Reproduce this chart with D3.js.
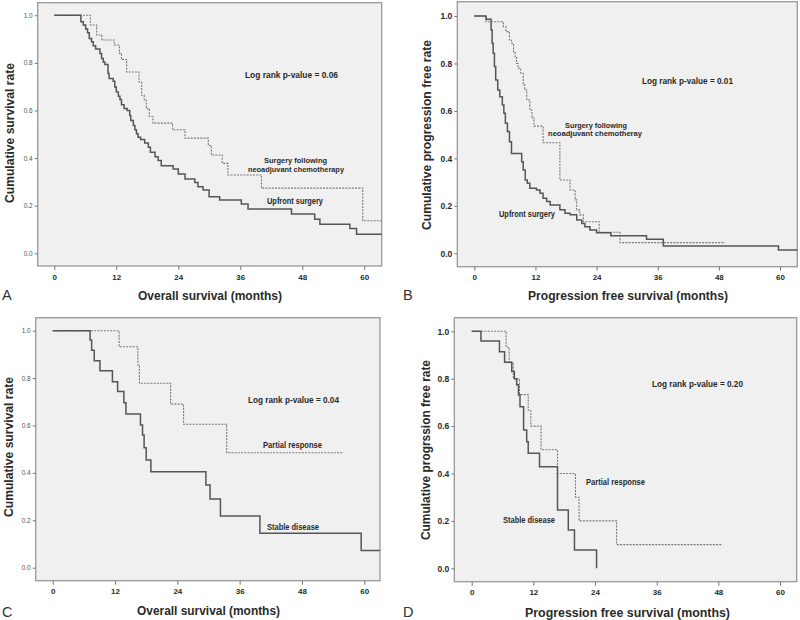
<!DOCTYPE html>
<html>
<head>
<meta charset="utf-8">
<script src="https://cdn.jsdelivr.net/npm/d3@7"></script>
<style>
  html, body { margin: 0; padding: 0; background: #ffffff; }
  svg { display: block; font-family: "Liberation Sans", Arial, sans-serif; }
</style>
</head>
<body>
<svg id="chart" width="800" height="620"></svg>
<script>
// ---- data ----
const xTickValues = [0, 12, 24, 36, 48, 60];
const yTickValues = [0, 0.2, 0.4, 0.6, 0.8, 1.0];

// Panel A: overall survival
const osUpfront = [[0,1],[5.15,0.973],[5.6,0.959],[6.06,0.942],[6.44,0.927],[6.77,0.903],[7.2,0.889],[7.54,0.872],[8.0,0.858],[8.83,0.84],[9.15,0.819],[9.47,0.804],[9.8,0.793],[10.4,0.755],[10.6,0.734],[11.4,0.723],[11.7,0.699],[12.0,0.678],[12.4,0.66],[12.7,0.646],[13.0,0.624],[13.5,0.608],[14.1,0.6],[14.6,0.579],[14.8,0.558],[15.3,0.537],[15.6,0.519],[15.9,0.502],[16.2,0.488],[16.7,0.478],[17.5,0.463],[18.2,0.446],[18.6,0.425],[19.5,0.406],[20.1,0.39],[20.7,0.368],[23.0,0.354],[24.0,0.333],[25.3,0.312],[27.2,0.298],[27.8,0.28],[28.8,0.266],[29.96,0.238],[32.0,0.224],[36.2,0.207],[37.5,0.186],[45.9,0.165],[50.4,0.143],[51.4,0.122],[57.2,0.104],[58.5,0.08],[63.4,0.08]];
const osNeoadj = [[0,1],[7.0,0.959],[8.2,0.917],[9.2,0.896],[11.6,0.875],[12.6,0.84],[13.0,0.814],[14.0,0.762],[16.4,0.72],[16.9,0.664],[17.4,0.643],[17.8,0.608],[18.4,0.575],[19.1,0.547],[22.9,0.519],[25.3,0.484],[29.8,0.453],[30.4,0.413],[32.5,0.378],[33.6,0.329],[40.1,0.274],[59.7,0.137],[63.4,0.137]];

// Panel B: progression free survival
const pfsUpfront = [[0,1],[2.3,0.986],[3.3,0.941],[3.5,0.885],[3.7,0.843],[3.95,0.787],[4.2,0.73],[4.6,0.688],[5.0,0.66],[5.5,0.625],[5.8,0.59],[6.1,0.548],[6.5,0.513],[6.9,0.47],[7.3,0.421],[9.3,0.386],[9.6,0.351],[10.0,0.309],[10.4,0.295],[10.9,0.274],[12.2,0.267],[12.9,0.253],[13.5,0.232],[14.2,0.218],[14.9,0.204],[16.8,0.183],[17.8,0.169],[18.8,0.162],[20.1,0.14],[21.1,0.126],[21.7,0.112],[22.7,0.098],[24.0,0.087],[26.8,0.074],[33.8,0.059],[37.1,0.031],[59.7,0.014],[63.4,0.014]];
const pfsNeoadj = [[0,1],[2.3,0.976],[5.7,0.955],[6.2,0.934],[6.9,0.899],[7.3,0.885],[7.7,0.85],[8.0,0.829],[8.3,0.8],[8.6,0.78],[9.1,0.76],[9.6,0.709],[9.9,0.688],[10.3,0.646],[10.9,0.604],[11.3,0.57],[11.7,0.536],[13.5,0.466],[16.8,0.309],[18.8,0.267],[19.8,0.225],[20.1,0.183],[20.7,0.162],[21.4,0.133],[24.5,0.089],[28.6,0.045],[49.2,0.045]];

// Panel C: overall survival by response
const osStable = [[0,1],[7.2,0.961],[7.5,0.918],[8.0,0.873],[9.1,0.831],[11.5,0.785],[12.5,0.743],[13.7,0.696],[14.1,0.648],[16.9,0.602],[17.3,0.56],[17.6,0.506],[18.0,0.454],[18.9,0.405],[29.5,0.349],[30.3,0.29],[32.3,0.218],[39.9,0.145],[59.4,0.073],[63.0,0.073]];
const osPartial = [[0,1],[12.8,0.932],[16.4,0.855],[16.7,0.778],[22.7,0.69],[25.2,0.605],[33.5,0.485],[56,0.485]];

// Panel D: progression free survival by response
const pfsStable = [[0,1],[1.8,0.959],[5.4,0.914],[6.4,0.869],[7.8,0.83],[8.3,0.8],[8.75,0.774],[9.1,0.731],[9.4,0.682],[10.1,0.584],[10.7,0.534],[11.0,0.485],[13.2,0.429],[16.7,0.246],[18.8,0.162],[20.0,0.077],[24.3,0.0]];
const pfsPartial = [[0,1],[6.7,0.933],[7.3,0.867],[8.1,0.8],[9.3,0.733],[11.0,0.667],[11.5,0.6],[13.5,0.5],[16.7,0.4],[20.2,0.3],[20.9,0.2],[28.2,0.1],[48.8,0.1]];

const panelLetters = ["A", "B", "C", "D"];
const xTitles = ["Overall survival (months)", "Progression free survival (months)", "Overall survival (months)", "Progression free survival (months)"];
const yTitles = ["Cumulative survival rate", "Cumulative progression free rate", "Cumulative survival rate", "Cumulative progrssion free rate"];
const pValueLabels = ["Log rank p-value = 0.06", "Log rank p-value = 0.01", "Log rank p-value = 0.04", "Log rank p-value = 0.20"];

// ---- layout ----
const layouts = [
  { box:[37.7,2.7,381.7,266], xr:[54.3,364.3], yr:[253.3,15.3], smallY:true,
    yTitle:{x:13.5, cy:133, len:140}, xTitle:{cx:210, y:300, len:144}, letter:{x:2, y:300},
    solid:osUpfront, dashed:osNeoadj,
    notes:[{t:pValueLabels[0], x:245, y:78, w:93, fs:8.5},
           {t:"Surgery following", x:264, y:163, w:63, fs:7.2},
           {t:"neoadjuvant chemotherapy", x:248, y:171.8, w:96, fs:7.2},
           {t:"Upfront surgery", x:267, y:204, w:56, fs:8.5}] },
  { box:[457.3,1.7,797.3,266.7], xr:[474.3,780], yr:[253.3,16], smallY:false,
    yTitle:{x:431, cy:135, len:190}, xTitle:{cx:628, y:300, len:200}, letter:{x:403, y:300},
    solid:pfsUpfront, dashed:pfsNeoadj,
    notes:[{t:pValueLabels[1], x:642, y:84, w:91, fs:8.5},
           {t:"Surgery following", x:565, y:127.6, w:62, fs:7.2},
           {t:"neoadjuvant chemotheray", x:548, y:136.4, w:94, fs:7.2},
           {t:"Upfront surgery", x:499, y:217, w:56, fs:8.5}] },
  { box:[35.7,317.7,380,580.7], xr:[52.7,364.3], yr:[567.7,330.7], smallY:true,
    yTitle:{x:12.5, cy:447, len:140}, xTitle:{cx:208.5, y:615, len:143}, letter:{x:2, y:616.5},
    solid:osStable, dashed:osPartial,
    notes:[{t:pValueLabels[2], x:248, y:402.5, w:91, fs:8.5},
           {t:"Partial response", x:263, y:447.5, w:59, fs:8.5},
           {t:"Stable disease", x:267, y:529.5, w:52, fs:8.5}] },
  { box:[454.3,317.7,796.7,581.7], xr:[471.7,780], yr:[568.3,331.3], smallY:false,
    yTitle:{x:430, cy:450, len:180}, xTitle:{cx:627.5, y:616.5, len:205}, letter:{x:403, y:616.5},
    solid:pfsStable, dashed:pfsPartial,
    notes:[{t:pValueLabels[3], x:652, y:387, w:91, fs:8.5},
           {t:"Partial response", x:586, y:484.5, w:59, fs:8.5},
           {t:"Stable disease", x:503, y:523, w:52, fs:8.5}] }
];

const svg = d3.select("#chart");

layouts.forEach((L, i) => {
  const g = svg.append("g");
  const x = d3.scaleLinear().domain([0, 60]).range(L.xr);
  const y = d3.scaleLinear().domain([0, 1]).range(L.yr);
  const [bx0, by0, bx1, by1] = L.box;

  g.append("rect").attr("x", bx0).attr("y", by0).attr("width", bx1 - bx0).attr("height", by1 - by0)
    .attr("fill", "#f0f0f0").attr("stroke", "#999").attr("stroke-width", 1.3);

  // x axis
  const xa = g.append("g").attr("transform", `translate(0,${by1})`)
    .call(d3.axisBottom(x).tickValues(xTickValues).tickSize(4).tickPadding(4).tickFormat(d3.format("d")));
  xa.select(".domain").remove();
  xa.selectAll("line").attr("stroke", "#777");
  xa.selectAll("text").attr("font-size", 8).attr("font-weight", "bold").attr("fill", "#2a2a2a")
    .attr("font-family", "Liberation Sans, Arial, sans-serif");

  // y axis
  const ya = g.append("g").attr("transform", `translate(${bx0},0)`)
    .call(d3.axisLeft(y).tickValues(yTickValues).tickSize(3).tickPadding(2).tickFormat(d3.format(".1f")));
  ya.select(".domain").remove();
  ya.selectAll("line").attr("stroke", "#777");
  ya.selectAll("text").attr("font-size", L.smallY ? 6.5 : 8.5).attr("font-weight", L.smallY ? "normal" : "bold")
    .attr("fill", L.smallY ? "#555" : "#2a2a2a").attr("font-family", "Liberation Sans, Arial, sans-serif");

  const line = d3.line().x(d => x(d[0])).y(d => y(d[1])).curve(d3.curveStepAfter);

  g.append("path").datum(L.dashed).attr("d", line).attr("fill", "none")
    .attr("stroke", "#777").attr("stroke-width", 1.1).attr("stroke-dasharray", "2,1.2");
  g.append("path").datum(L.solid).attr("d", line).attr("fill", "none")
    .attr("stroke", "#555").attr("stroke-width", 1.5);

  // annotations
  L.notes.forEach(n => {
    g.append("text").attr("x", n.x).attr("y", n.y).text(n.t)
      .attr("font-size", n.fs).attr("font-weight", "bold").attr("fill", "#2a2a2a")
      .attr("textLength", n.w).attr("lengthAdjust", "spacingAndGlyphs");
  });

  // titles
  g.append("text").attr("transform", `translate(${L.yTitle.x},${L.yTitle.cy}) rotate(-90)`)
    .attr("text-anchor", "middle").text(yTitles[i])
    .attr("font-size", 12.5).attr("font-weight", "bold").attr("fill", "#2a2a2a")
    .attr("textLength", L.yTitle.len).attr("lengthAdjust", "spacingAndGlyphs");
  g.append("text").attr("x", L.xTitle.cx).attr("y", L.xTitle.y).attr("text-anchor", "middle")
    .text(xTitles[i]).attr("font-size", 12.5).attr("font-weight", "bold").attr("fill", "#2a2a2a")
    .attr("textLength", L.xTitle.len).attr("lengthAdjust", "spacingAndGlyphs");
  g.append("text").attr("x", L.letter.x).attr("y", L.letter.y).text(panelLetters[i])
    .attr("font-size", 14.5).attr("fill", "#333");
});
</script>
</body>
</html>
